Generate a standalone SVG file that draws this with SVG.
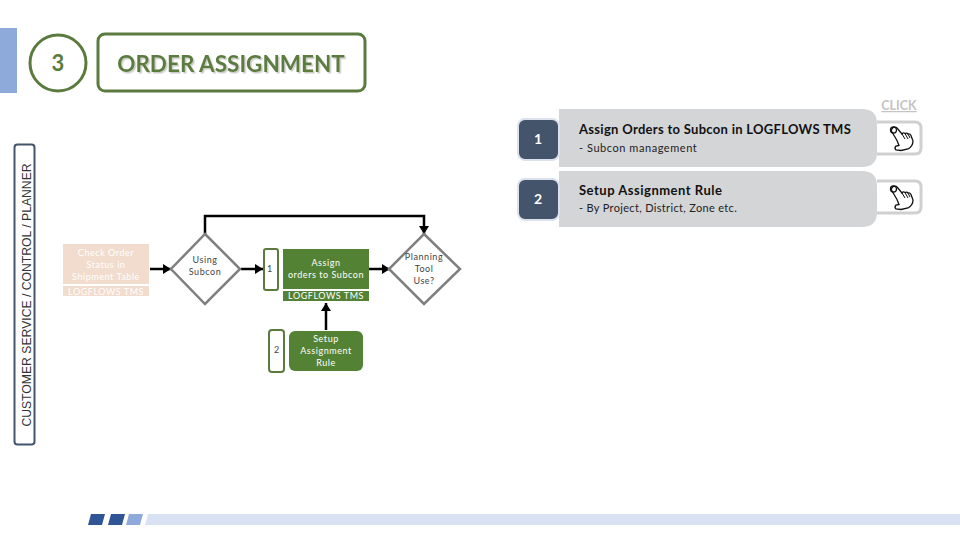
<svg xmlns="http://www.w3.org/2000/svg" width="960" height="540" viewBox="0 0 960 540">
<defs>
<marker id="ah" markerUnits="userSpaceOnUse" markerWidth="9" markerHeight="10" refX="8" refY="5" orient="auto"><path d="M0 0L8 5L0 10Z" fill="#000"/></marker>
<filter id="sh" x="-5%" y="-20%" width="110%" height="140%"><feDropShadow dx="1.500" dy="1.500" stdDeviation="0.300" flood-color="#c9ccc4"/></filter>
<g id="hand"><path d="M-7-10a3 3 0 0 1 5-1L3-5q1-2 3-.5q2-1 3 .5q2-.5 3 1.500L14 2Q14 7 9 10L2 11.500L-3 11Q-5 9-3 7L0 6.500L-2 1.500L-7-7Q-8.500-9-7-10Z" fill="#fff" stroke="#111" stroke-width="1.300"/><circle cx="-5.500" cy="-9" r="3" fill="none" stroke="#111" stroke-width="1.300"/><path d="M3-5L6 0M6-5.500L9 0M9-5L11-1" fill="none" stroke="#111" stroke-width="1"/></g>
</defs>
<style>
text{font-family:Lato,"Liberation Sans",sans-serif;text-anchor:middle}
.w{fill:#fff;font-size:9px;letter-spacing:.55px}
.d{fill:#444;font-size:9px;letter-spacing:.55px}
.g{fill:#548235}
.b{fill:#f1dccd}
.c{fill:none;stroke:#000;stroke-width:2.500}
.dia{fill:#fff;stroke:#7f7f7f;stroke-width:2.500}
.t{fill:#fff;stroke:#5b7b3e;stroke-width:2;}
.n{fill:#44546a;stroke:#dbe2ee;stroke-width:2}
.p{fill:#d4d5d7}
.k{fill:#fff;stroke:#d0d0d0;stroke-width:3}
.h{fill:#111;font-size:13px;font-weight:700;text-anchor:start;letter-spacing:.3px}
.s{fill:#222;font-size:11px;text-anchor:start;letter-spacing:.55px}
</style>
<g id="accent"><rect x="0" y="28" width="17" height="65" fill="#8eaadb"/></g>
<g id="step-number"><circle cx="58" cy="63" r="28" fill="#fff" stroke="#5b7b3e" stroke-width="3"/><text x="58" y="71" font-size="22" font-weight="700" fill="#5b7b3e">3</text></g>
<g id="title"><rect x="98" y="34" width="267" height="57" rx="7" fill="#fff" stroke="#5b7b3e" stroke-width="3"/><text x="231" y="72" font-size="22.500" font-weight="700" fill="#5b7b3e" filter="url(#sh)">ORDER ASSIGNMENT</text></g>
<g id="role-label"><rect x="14.500" y="144.500" width="20" height="300" rx="3" fill="#fff" stroke="#44546a" stroke-width="2"/><text transform="translate(31 295) rotate(-90)" font-size="12.200" fill="#333" style="font-family:'Liberation Sans',sans-serif">CUSTOMER SERVICE / CONTROL / PLANNER</text></g>
<g id="connectors">
<path class="c" d="M150 269H171" marker-end="url(#ah)"/>
<path class="c" d="M241 269H263" marker-end="url(#ah)"/>
<path class="c" d="M369 269H390" marker-end="url(#ah)"/>
<path class="c" d="M205 234V216H424V234" marker-end="url(#ah)"/>
<path class="c" d="M326 330V303" marker-end="url(#ah)"/>
</g>
<g id="check-order"><rect class="b" x="63" y="244" width="86" height="40"/><rect class="b" x="63" y="286" width="86" height="10"/><text class="w" x="106" y="256">Check Order</text><text class="w" x="106" y="268">Status in</text><text class="w" x="106" y="280">Shipment Table</text><text class="w" x="106" y="295">LOGFLOWS TMS</text></g>
<g id="using-subcon"><path class="dia" d="M205 234L240 269L205 304L171 269Z"/><text class="d" x="205" y="263">Using</text><text class="d" x="205" y="275">Subcon</text></g>
<g id="marker-1"><rect class="t" x="264" y="249" width="14" height="41" rx="2"/><text class="d" x="270" y="272">1</text></g>
<g id="assign-orders"><rect class="g" x="283" y="249" width="86" height="40"/><rect class="g" x="283" y="291" width="86" height="10"/><text class="w" x="326" y="266">Assign</text><text class="w" x="326" y="278">orders to Subcon</text><text class="w" x="326" y="299">LOGFLOWS TMS</text></g>
<g id="planning-tool"><path class="dia" d="M424 234L460 269L424 304L389 269Z"/><text class="d" x="424" y="260">Planning</text><text class="d" x="424" y="272">Tool</text><text class="d" x="424" y="284">Use?</text></g>
<g id="marker-2"><rect class="t" x="269" y="330" width="15" height="42" rx="3"/><text class="d" x="277" y="353">2</text></g>
<g id="setup-rule"><rect class="g" x="289" y="331" width="74" height="40" rx="6"/><text class="w" x="326" y="342">Setup</text><text class="w" x="326" y="354">Assignment</text><text class="w" x="326" y="366">Rule</text></g>
<g id="panel-1"><path class="p" d="M559 109H862Q877 109 877 124V152Q877 167 862 167H559Z"/><rect class="n" x="518" y="119" width="41" height="41" rx="7"/><text x="538" y="144" font-size="14" font-weight="700" fill="#fff">1</text><text class="h" x="579" y="134">Assign Orders to Subcon in LOGFLOWS TMS</text><text class="s" x="579" y="152">- Subcon management</text></g>
<g id="panel-2"><path class="p" d="M559 171H862Q877 171 877 186V212Q877 227 862 227H559Z"/><rect class="n" x="518" y="179" width="41" height="41" rx="7"/><text x="538" y="204" font-size="14" font-weight="700" fill="#fff">2</text><text class="h" x="579" y="195" style="letter-spacing:.5px">Setup Assignment Rule</text><text class="s" x="579" y="212" style="letter-spacing:.33px">- By Project, District, Zone etc.</text></g>
<text x="899" y="110" font-size="12.500" font-weight="700" fill="#c4c4c4" text-decoration="underline">CLICK</text>
<g id="click-1"><path class="k" d="M877 122H915Q921 122 921 128V148Q921 154 915 154H877"/><use href="#hand" x="899" y="139"/></g>
<g id="click-2"><path class="k" d="M877 181H915Q921 181 921 187V207Q921 213 915 213H877"/><use href="#hand" x="899" y="198"/></g>
<g id="footer"><path d="M91 514H105L102 525H88Z" fill="#2f5597"/><path d="M111 514H125L122 525H108Z" fill="#2f5597"/><path d="M129 514H143L140 525H126Z" fill="#8eaadb"/><path d="M148 514H960V525H145Z" fill="#d9e2f3"/></g>
</svg>
